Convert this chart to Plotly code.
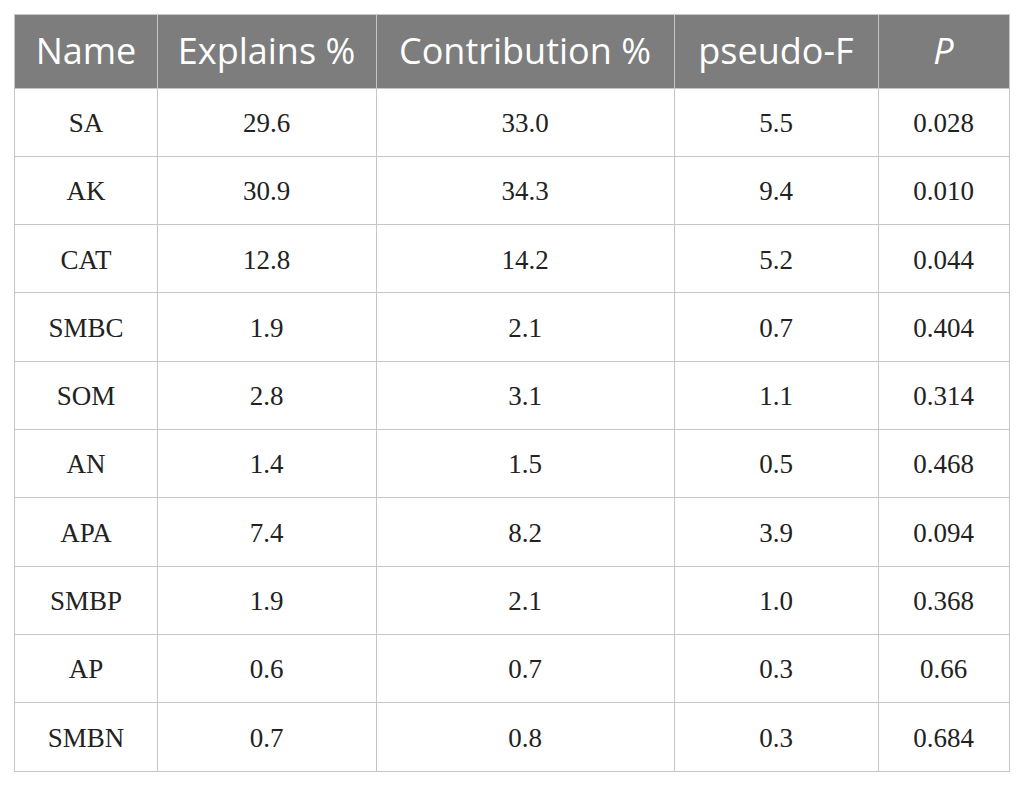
import numpy as np
import plotly.graph_objects as go

# forward selection summary (table)
header = ["Name", "Explains %", "Contribution %", "pseudo-F", "<i>P</i>"]
names = ["SA", "AK", "CAT", "SMBC", "SOM", "AN", "APA", "SMBP", "AP", "SMBN"]
explains = ["29.6", "30.9", "12.8", "1.9", "2.8", "1.4", "7.4", "1.9", "0.6", "0.7"]
contribution = ["33.0", "34.3", "14.2", "2.1", "3.1", "1.5", "8.2", "2.1", "0.7", "0.8"]
pseudo_f = ["5.5", "9.4", "5.2", "0.7", "1.1", "0.5", "3.9", "1.0", "0.3", "0.3"]
p_vals = ["0.028", "0.010", "0.044", "0.404", "0.314", "0.468", "0.094", "0.368", "0.66", "0.684"]

columns = [names, explains, contribution, pseudo_f, p_vals]

# layout (pixel units of the table)
col_w = [142, 219, 298, 204, 131]
head_h = 73
row_h = 68.3
n_rows = len(names)

col_edges = np.concatenate([[0], np.cumsum(col_w)])
col_mid = (col_edges[:-1] + col_edges[1:]) / 2
row_edges = head_h + row_h * np.arange(n_rows + 1)
row_mid = (row_edges[:-1] + row_edges[1:]) / 2
tbl_w = col_edges[-1]
tbl_h = row_edges[-1]

border = "#c6c6c6"
head_fill = "#7d7d7d"

fig = go.Figure()

# header labels (nudged down a little, plotly's middle sits high)
fig.add_trace(go.Scatter(
    x=col_mid, y=[head_h / 2 + 3.5] * len(header),
    text=header, mode="text", textposition="middle center",
    textfont=dict(family="Open Sans", size=36, color="white"),
    hoverinfo="skip", showlegend=False,
))

# body cells
xs, ys, txt = [], [], []
for j, col in enumerate(columns):
    for i, v in enumerate(col):
        xs.append(col_mid[j])
        ys.append(row_mid[i] + 3)
        txt.append(v)
fig.add_trace(go.Scatter(
    x=xs, y=ys, text=txt, mode="text", textposition="middle center",
    textfont=dict(family="Liberation Serif", size=27, color="#222222"),
    hoverinfo="skip", showlegend=False,
))

# header background
fig.add_shape(type="rect", xref="x", yref="y", x0=0, x1=tbl_w, y0=0, y1=head_h,
              fillcolor=head_fill, line_width=0, layer="below")

# the page has an 8px body margin, so size the figure to sit inside the window
W, H = 1009, 771
fig.update_layout(
    width=W, height=H,
    margin=dict(l=7, t=7, r=W - 7 - tbl_w, b=H - 7 - int(round(tbl_h))),
    paper_bgcolor="white", plot_bgcolor="white",
    xaxis=dict(range=[0, tbl_w], tickvals=col_edges[1:-1], showticklabels=False,
               ticks="", showgrid=True, gridcolor=border, gridwidth=1.3,
               zeroline=False, showline=True, mirror=True, linecolor=border,
               linewidth=1.3, fixedrange=True),
    yaxis=dict(range=[tbl_h, 0], tickvals=row_edges[:-1], showticklabels=False,
               ticks="", showgrid=True, gridcolor=border, gridwidth=1.3,
               zeroline=False, showline=True, mirror=True, linecolor=border,
               linewidth=1.3, fixedrange=True),
)

fig.write_html("out.html")
